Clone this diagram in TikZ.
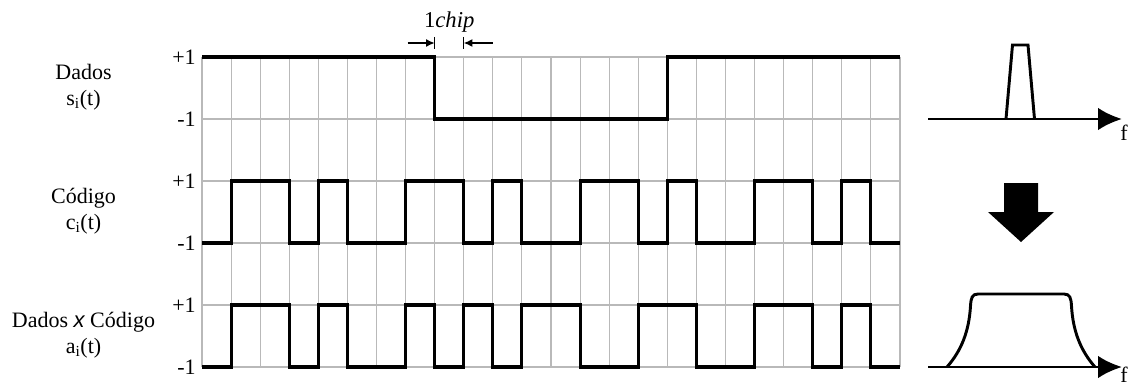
\documentclass[tikz,border=0pt]{standalone}
\usepackage{fontspec}
\setmainfont{Liberation Serif}
\newfontfamily\xsans{Liberation Sans}
\usetikzlibrary{arrows.meta}
\tikzset{
  gridline/.style={draw=gray!55, line width=0.8pt},
  signal/.style={draw=black, line width=2.3pt, line join=miter},
  spec/.style={draw=black, line width=2.2pt},
  lbl/.style={font=\fontsize{16.5pt}{19.5pt}\selectfont, align=center, inner sep=0pt},
  ftxt/.style={font=\fontsize{16.5pt}{19.5pt}\selectfont, inner sep=0pt, anchor=base west},
  ticklbl/.style={font=\fontsize{16.5pt}{19pt}\selectfont, anchor=east, inner sep=0pt},
  chiptxt/.style={font=\fontsize{17pt}{20pt}\selectfont, inner sep=0pt},
  chiparrow/.style={draw=black, line width=1pt, -{Latex[length=6.5pt,width=6pt]}},
  axisarrow/.style={draw=black, line width=2.2pt, -{Latex[length=18pt,width=17pt]}},
}
\begin{document}
\begin{tikzpicture}[x=0.75pt,y=-0.75pt]
\useasboundingbox (0,0) rectangle (1129,385);
% grid and signals, in chip units
\begin{scope}[xshift=151.5pt, x=21.8125pt]
  \foreach \k in {0,...,24} \draw[gridline] (\k,57) -- (\k,367);
  \foreach \yy in {57,119,181,243,305,367} \draw[gridline] (0,\yy) -- (24,\yy);
  % data
  \draw[signal] (0,57) -- (8,57) -- (8,119) -- (16,119) -- (16,57) -- (24,57);
  % code
  \draw[signal] (0,243) -- (1,243) -- (1,181) -- (3,181) -- (3,243) -- (4,243) -- (4,181) -- (5,181) -- (5,243)
    -- (7,243) -- (7,181) -- (9,181) -- (9,243) -- (10,243) -- (10,181) -- (11,181) -- (11,243)
    -- (13,243) -- (13,181) -- (15,181) -- (15,243) -- (16,243) -- (16,181) -- (17,181) -- (17,243)
    -- (19,243) -- (19,181) -- (21,181) -- (21,243) -- (22,243) -- (22,181) -- (23,181) -- (23,243) -- (24,243);
  % product
  \draw[signal] (0,367) -- (1,367) -- (1,305) -- (3,305) -- (3,367) -- (4,367) -- (4,305) -- (5,305) -- (5,367)
    -- (7,367) -- (7,305) -- (8,305) -- (8,367) -- (9,367) -- (9,305) -- (10,305) -- (10,367) -- (11,367)
    -- (11,305) -- (13,305) -- (13,367) -- (15,367) -- (15,305) -- (17,305) -- (17,367)
    -- (19,367) -- (19,305) -- (21,305) -- (21,367) -- (22,367) -- (22,305) -- (23,305) -- (23,367) -- (24,367);
  % chip markers
  \coordinate (b1top) at (8,37);
  \coordinate (b1bot) at (8,49);
  \coordinate (b2top) at (9,37);
  \coordinate (b2bot) at (9,49);
  \coordinate (a1start) at (7.07,43);
  \coordinate (a1end) at (8,43);
  \coordinate (a2start) at (10,43);
  \coordinate (a2end) at (9,43);
  \node[chiptxt] (chip) at (8.5,22) {1\textit{chip}};
\end{scope}
\draw[line width=1pt] (b1top) -- (b1bot);
\draw[line width=1pt] (b2top) -- (b2bot);
\draw[chiparrow] (a1start) -- (a1end);
\draw[chiparrow] (a2start) -- (a2end);
% tick labels
\foreach \yy/\t/\n in {57/+1/ta,119/-1/tb,181/+1/tc,243/-1/td,305/+1/te,367/-1/tf}
  \node[ticklbl] (\n) at (196,\yy) {\t};
% row labels
\node[lbl] (ldata) at (83.5,87) {Dados\\s\textsubscript{i}(t)};
\node[lbl] (lcode) at (83.5,211) {Código\\c\textsubscript{i}(t)};
\node[lbl] (lprod) at (83.5,335) {Dados {\xsans\itshape x} Código\\a\textsubscript{i}(t)};
% top spectrum
\coordinate (ax1s) at (928,119);
\coordinate (ax1e) at (1122,119);
\draw[axisarrow] (ax1s) -- (ax1e);
\draw[spec, line join=miter] (1006,119) -- (1012.5,45) -- (1028,45) -- (1034.5,119);
\node[ftxt] (f1) at (1120,141) {f};
% down arrow
\fill[black] (1004,183) -- (1038,183) -- (1038,212) -- (1054,212) -- (1021,242) -- (988,212) -- (1004,212) -- cycle;
% bottom spectrum
\coordinate (ax2s) at (928,367);
\coordinate (ax2e) at (1122,367);
\draw[axisarrow] (ax2s) -- (ax2e);
\draw[spec] (947,367) .. controls (961,351) and (969,332) .. (970.5,306)
  .. controls (971,298) and (972,294) .. (978,294) -- (1064,294)
  .. controls (1070,294) and (1071,298) .. (1071.5,306)
  .. controls (1073,332) and (1081,351) .. (1095,367);
\node[ftxt] (f2) at (1120,382) {f};
\end{tikzpicture}
\end{document}
